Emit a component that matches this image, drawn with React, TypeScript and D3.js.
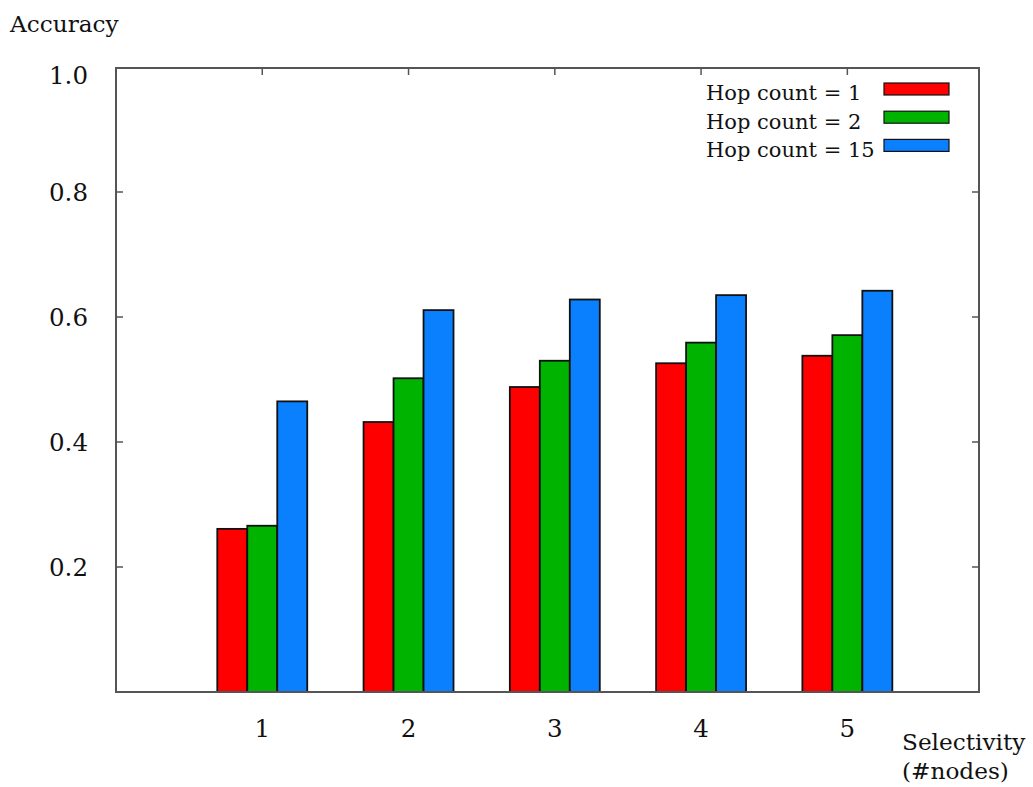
import React from "react";
import * as d3 from "d3";

const categories = [1, 2, 3, 4, 5];
const seriesNames = ["Hop count = 1", "Hop count = 2", "Hop count = 15"];
const hop1 = [0.261, 0.432, 0.488, 0.526, 0.538];
const hop2 = [0.266, 0.502, 0.530, 0.559, 0.571];
const hop15 = [0.465, 0.611, 0.628, 0.635, 0.642];
const colors = ["#ff0000", "#00b300", "#0a80ff"];
const yTicks = [0.2, 0.4, 0.6, 0.8, 1.0];

export default function App() {
  const W = 1033, H = 787;
  const left = 116, right = 979, top = 67, bottom = 692;
  const x = d3.scaleLinear().domain([0, 5.9]).range([left, right]);
  const y = d3.scaleLinear().domain([0, 1.0]).range([bottom, top]);
  const series = [hop1, hop2, hop15];
  const bw = x(0.205) - x(0);
  const font = "'DejaVu Serif', serif";
  const axisColor = "#555";

  return (
    <svg width={W} height={H} style={{ position: "absolute", left: 0, top: 0, background: "#fff" }}>
      <rect x={0} y={0} width={W} height={H} fill="#fff" />
      {series.map((s, si) =>
        s.map((v, i) => {
          const cx = x(categories[i]);
          const x0 = cx + (si - 1.5) * bw;
          return (
            <rect
              key={`${si}-${i}`}
              x={x0}
              y={y(v)}
              width={bw}
              height={y(0) - y(v)}
              fill={colors[si]}
              stroke="#111"
              strokeWidth={1.8}
            />
          );
        })
      )}
      <rect x={left} y={68} width={right - left} height={bottom - 68} fill="none" stroke={axisColor} strokeWidth={2} />
      {yTicks.map((t) => (
        <g key={t}>
          {t < 1 && <line x1={left} x2={left + 7} y1={y(t)} y2={y(t)} stroke={axisColor} strokeWidth={1.5} />}
          {t < 1 && <line x1={right} x2={right - 7} y1={y(t)} y2={y(t)} stroke={axisColor} strokeWidth={1.5} />}
          <text
            x={88}
            y={y(t) + (t === 1 ? 10 : 2)}
            textAnchor="end"
            dominantBaseline="middle"
            fontFamily={font}
            fontSize={24.5}
            fill="#111"
          >
            {t.toFixed(1)}
          </text>
        </g>
      ))}
      {categories.map((c) => (
        <g key={c}>
          <line x1={x(c)} x2={x(c)} y1={68} y2={75} stroke={axisColor} strokeWidth={1.5} />
          <text x={x(c)} y={737} textAnchor="middle" fontFamily={font} fontSize={24.5} fill="#111">
            {c}
          </text>
        </g>
      ))}
      <text x={10} y={32} fontFamily={font} fontSize={23.2} fill="#111">Accuracy</text>
      <text x={902} y={750} fontFamily={font} fontSize={23.2} fill="#111">Selectivity</text>
      <text x={902} y={779} fontFamily={font} fontSize={23.2} fill="#111">(#nodes)</text>
      {seriesNames.map((n, i) => (
        <g key={n}>
          <text x={706} y={100 + i * 28.5} fontFamily={font} fontSize={21} fill="#111">
            {n}
          </text>
          <rect x={884} y={83 + i * 28.2} width={65} height={12} fill={colors[i]} stroke="#111" strokeWidth={1.2} />
        </g>
      ))}
    </svg>
  );
}
